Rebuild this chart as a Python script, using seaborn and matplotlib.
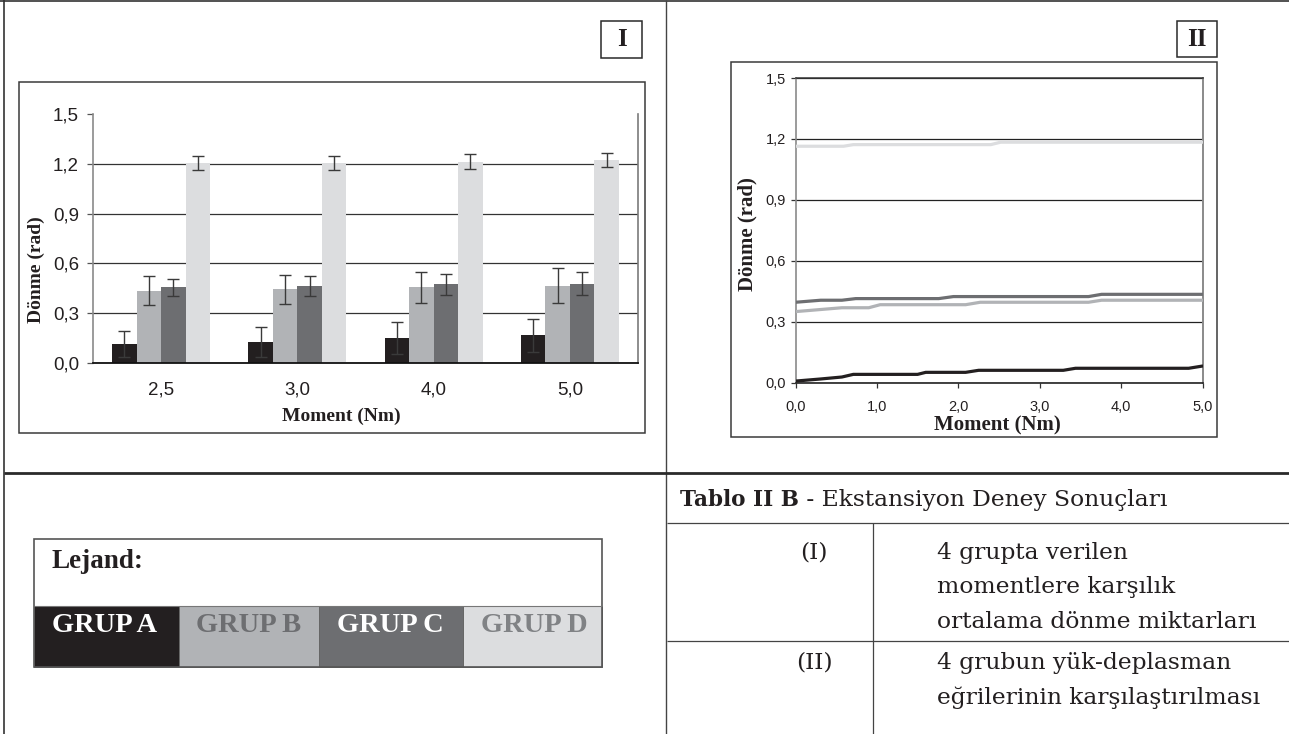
import numpy as np
import pandas as pd
import matplotlib
matplotlib.use("Agg")
import matplotlib.pyplot as plt
from matplotlib.patches import Rectangle
from matplotlib.lines import Line2D
import seaborn as sns

# ---------------------------------------------------------------- data
moments = ["2,5", "3,0", "4,0", "5,0"]
groups = ["GRUP A", "GRUP B", "GRUP C", "GRUP D"]
colors = ["#231f20", "#b1b3b6", "#6d6e71", "#dcdddf"]
legend_text_colors = ["#ffffff", "#6d6e71", "#ffffff", "#808285"]

# mean rotation (rad) per applied moment, with error half-widths
mean_a = [0.114, 0.126, 0.150, 0.168]
mean_b = [0.435, 0.443, 0.455, 0.465]
mean_c = [0.455, 0.465, 0.475, 0.478]
mean_d = [1.205, 1.205, 1.212, 1.222]
err_a = [0.076, 0.088, 0.097, 0.099]
err_b = [0.087, 0.090, 0.095, 0.105]
err_c = [0.050, 0.060, 0.063, 0.068]
err_d = [0.043, 0.040, 0.045, 0.043]

y_ticks = [0.0, 0.3, 0.6, 0.9, 1.2, 1.5]
y_ticklabels = ["0,0", "0,3", "0,6", "0,9", "1,2", "1,5"]
x2_ticks = [0, 1, 2, 3, 4, 5]
x2_ticklabels = ["0,0", "1,0", "2,0", "3,0", "4,0", "5,0"]

# load-rotation curves (moment Nm -> rotation rad)
curve_a_x = [0.0, 0.30, 0.57, 0.71, 1.50, 1.60, 2.09, 2.25, 3.29, 3.44, 4.83, 5.0]
curve_a_y = [0.008, 0.018, 0.028, 0.041, 0.041, 0.051, 0.051, 0.061, 0.061, 0.071, 0.071, 0.082]
curve_b_x = [0.0, 0.57, 0.90, 1.04, 2.09, 2.27, 3.60, 3.76, 5.0]
curve_b_y = [0.350, 0.369, 0.369, 0.384, 0.384, 0.396, 0.396, 0.406, 0.406]
curve_c_x = [0.0, 0.31, 0.57, 0.74, 1.76, 1.94, 3.60, 3.76, 5.0]
curve_c_y = [0.396, 0.406, 0.406, 0.414, 0.414, 0.424, 0.424, 0.435, 0.435]
curve_d_x = [0.0, 0.59, 0.71, 2.40, 2.52, 5.0]
curve_d_y = [1.164, 1.164, 1.172, 1.172, 1.184, 1.184]

table_rows = [
    ("(I)", ["4 grupta verilen", "momentlere karşılık", "ortalama dönme miktarları"]),
    ("(II)", ["4 grubun yük-deplasman", "eğrilerinin karşılaştırılması"]),
]

# ---------------------------------------------------------------- setup
W, H, DPI = 1289, 734, 100


def fx(px):
    return px / W


def fy(py):
    return 1 - py / H


sns.set_style("white")
plt.rcParams["font.family"] = ["Liberation Sans", "DejaVu Sans"]
SERIF = ["Liberation Serif", "DejaVu Serif"]
BODY = ["DejaVu Serif"]
INK = "#231f20"

fig = plt.figure(figsize=(W / DPI, H / DPI), dpi=DPI)


def fline(xs, ys, color="#333333", lw=1.0):
    fig.add_artist(Line2D([fx(v) for v in xs], [fy(v) for v in ys],
                          transform=fig.transFigure, color=color, lw=lw,
                          solid_capstyle="butt"))


def fbox(x0, y0, x1, y1, ec="#3a3a3a", fc="none", lw=1.1, z=1):
    fig.add_artist(Rectangle((fx(x0), fy(y1)), fx(x1) - fx(x0), fy(y0) - fy(y1),
                             transform=fig.transFigure, ec=ec, fc=fc, lw=lw, zorder=z))


# page rules
fline([0, W], [1.2, 1.2], color="#333333", lw=1.2)
fline([3.5, 3.5], [0, H], color="#333333", lw=1.2)
fline([666, 666], [0, H], color="#444444", lw=1.0)
fline([3.5, W], [472.5, 472.5], color="#2a2a2a", lw=2.0)

# ---------------------------------------------------------------- panel I
fbox(19, 82, 645, 433)
fbox(601, 21, 642, 58, ec="#2a2a2a")
fig.text(fx(621.5), fy(40), "I", ha="center", va="center", family=SERIF,
         weight="bold", size=18, color=INK)

bars = pd.DataFrame({
    "moment": moments * 4,
    "group": np.repeat(groups, len(moments)),
    "value": mean_a + mean_b + mean_c + mean_d,
})
errs = dict(zip(groups, [err_a, err_b, err_c, err_d]))

ax1 = fig.add_axes([fx(93), fy(363), (638 - 93) / W, (363 - 114) / H])
sns.barplot(data=bars, x="moment", y="value", hue="group", order=moments,
            hue_order=groups, palette=colors, width=0.72, errorbar=None,
            saturation=1, linewidth=0, legend=False, ax=ax1)
for cont, grp in zip(ax1.containers, groups):
    xs = [b.get_x() + b.get_width() / 2 for b in cont]
    ys = [b.get_height() for b in cont]
    ax1.errorbar(xs, ys, yerr=errs[grp], fmt="none", ecolor="#3a3a3a",
                 elinewidth=1.0, capsize=4, capthick=1.0, zorder=5)

ax1.set_xlim(-0.5, 3.5)
ax1.set_ylim(0, 1.5)
ax1.set_yticks(y_ticks)
ax1.set_yticklabels(y_ticklabels)
ax1.set_axisbelow(True)
ax1.yaxis.grid(True, color="#333333", lw=0.9)
ax1.get_ygridlines()[-1].set_visible(False)
ax1.set_xticks(np.arange(-0.5, 4.0, 1.0), minor=True)
ax1.tick_params(axis="x", which="major", length=0, pad=13, labelsize=13.5, labelcolor=INK)
ax1.tick_params(axis="x", which="minor", length=4.5, width=0.9, direction="out", color="#222222")
ax1.tick_params(axis="y", length=4, width=0.9, direction="out", pad=6, labelsize=13.5,
                labelcolor=INK, color="#555555", left=True)
for side, col, lw in [("left", "#8a8a8a", 1.2), ("bottom", "#111111", 1.3),
                      ("right", "#7a7a7a", 1.2)]:
    ax1.spines[side].set_visible(True)
    ax1.spines[side].set_color(col)
    ax1.spines[side].set_linewidth(lw)
ax1.spines["top"].set_visible(False)
ax1.set_xlabel("Moment (Nm)", family=SERIF, weight="bold", size=14, color=INK,
               va="center", ha="center")
ax1.xaxis.set_label_coords((341.5 - 93) / 545, (363 - 416.7) / 249)
ax1.set_ylabel("Dönme (rad)", family=SERIF, weight="bold", size=14, color=INK,
               va="center", ha="center")
ax1.yaxis.set_label_coords((36 - 93) / 545, (363 - 270) / 249)

# ---------------------------------------------------------------- panel II
fbox(731, 62, 1217, 437)
fbox(1177, 21, 1217, 57, ec="#2a2a2a")
fig.text(fx(1197), fy(39), "II", ha="center", va="center", family=SERIF,
         weight="bold", size=18, color=INK)

curves = pd.concat([
    pd.DataFrame({"moment": cx, "rotation": cy, "group": g})
    for g, cx, cy in zip(groups,
                         [curve_a_x, curve_b_x, curve_c_x, curve_d_x],
                         [curve_a_y, curve_b_y, curve_c_y, curve_d_y])
], ignore_index=True)

ax2 = fig.add_axes([fx(795.5), fy(382.7), (1202.5 - 795.5) / W, (382.7 - 78) / H])
sns.lineplot(data=curves, x="moment", y="rotation", hue="group", hue_order=groups,
             palette=colors, estimator=None, sort=False, lw=2.3, legend=False,
             ax=ax2, zorder=3)
ax2.set_xlim(0, 5)
ax2.set_ylim(0, 1.5)
ax2.set_xticks(x2_ticks)
ax2.set_xticklabels(x2_ticklabels)
ax2.set_yticks(y_ticks)
ax2.set_yticklabels(y_ticklabels)
ax2.set_axisbelow(True)
ax2.yaxis.grid(True, color="#222222", lw=0.9)
ax2.tick_params(axis="x", length=3.5, width=0.9, direction="out", pad=9,
                labelsize=10.5, labelcolor=INK, color="#333333", bottom=True)
ax2.tick_params(axis="y", length=3.5, width=0.9, direction="out", pad=3.5,
                labelsize=10.5, labelcolor=INK, color="#333333", left=True)
for side, col, lw in [("left", "#8a8a8a", 1.2), ("bottom", "#222222", 1.2),
                      ("right", "#8a8a8a", 1.4), ("top", "#333333", 1.1)]:
    ax2.spines[side].set_visible(True)
    ax2.spines[side].set_color(col)
    ax2.spines[side].set_linewidth(lw)
ax2.set_xlabel("Moment (Nm)", family=SERIF, weight="bold", size=15, color=INK,
               va="center", ha="center")
ax2.xaxis.set_label_coords((997 - 795.5) / 407, (382.7 - 425) / 304.7)
ax2.set_ylabel("Dönme (rad)", family=SERIF, weight="bold", size=15, color=INK,
               va="center", ha="center")
ax2.yaxis.set_label_coords((747 - 795.5) / 407, (382.7 - 234.3) / 304.7)

# ---------------------------------------------------------------- legend block
fbox(34, 539, 602, 667, ec="#555555", lw=1.2, z=2)
fline([34, 602], [606.3, 606.3], color="#777777", lw=0.8)
fig.text(fx(52), fy(562), "Lejand:", ha="left", va="center", family=SERIF,
         weight="bold", size=19.5, color=INK)
cell_edges = [34, 178.5, 318.6, 463, 602]
for i, (g, c, tc) in enumerate(zip(groups, colors, legend_text_colors)):
    fbox(cell_edges[i], 606.3, cell_edges[i + 1], 667, ec="#666666", fc=c, lw=0.7, z=1)
    fig.text(fx(cell_edges[i] + 18), fy(626), g, ha="left", va="center",
             family=SERIF, weight="bold", size=20.5, color=tc, zorder=3)

# ---------------------------------------------------------------- table
fig.canvas.draw()
renderer = fig.canvas.get_renderer()
t_head = fig.text(fx(680), fy(500), "Tablo II B", ha="left", va="center",
                  family=BODY, weight="bold", size=15.5, color=INK)
bb = t_head.get_window_extent(renderer)
fig.text(bb.x1 / W, fy(500), " - Ekstansiyon Deney Sonuçları", ha="left",
         va="center", family=BODY, size=16.8, color=INK)

fline([667, W], [523.3, 523.3], color="#444444", lw=0.9)
fline([873.4, 873.4], [523.3, H], color="#444444", lw=0.9)
fline([667, W], [641.3, 641.3], color="#444444", lw=0.9)

row_tops = [553, 663]
for (tag, lines), y0 in zip(table_rows, row_tops):
    fig.text(fx(814), fy(y0), tag, ha="center", va="center", family=BODY,
             size=16.8, color=INK)
    for k, ln in enumerate(lines):
        fig.text(fx(937), fy(y0 + k * 34.3), ln, ha="left", va="center",
                 family=BODY, size=16.8, color=INK)

fig.savefig("out.png", dpi=DPI, facecolor="white")
